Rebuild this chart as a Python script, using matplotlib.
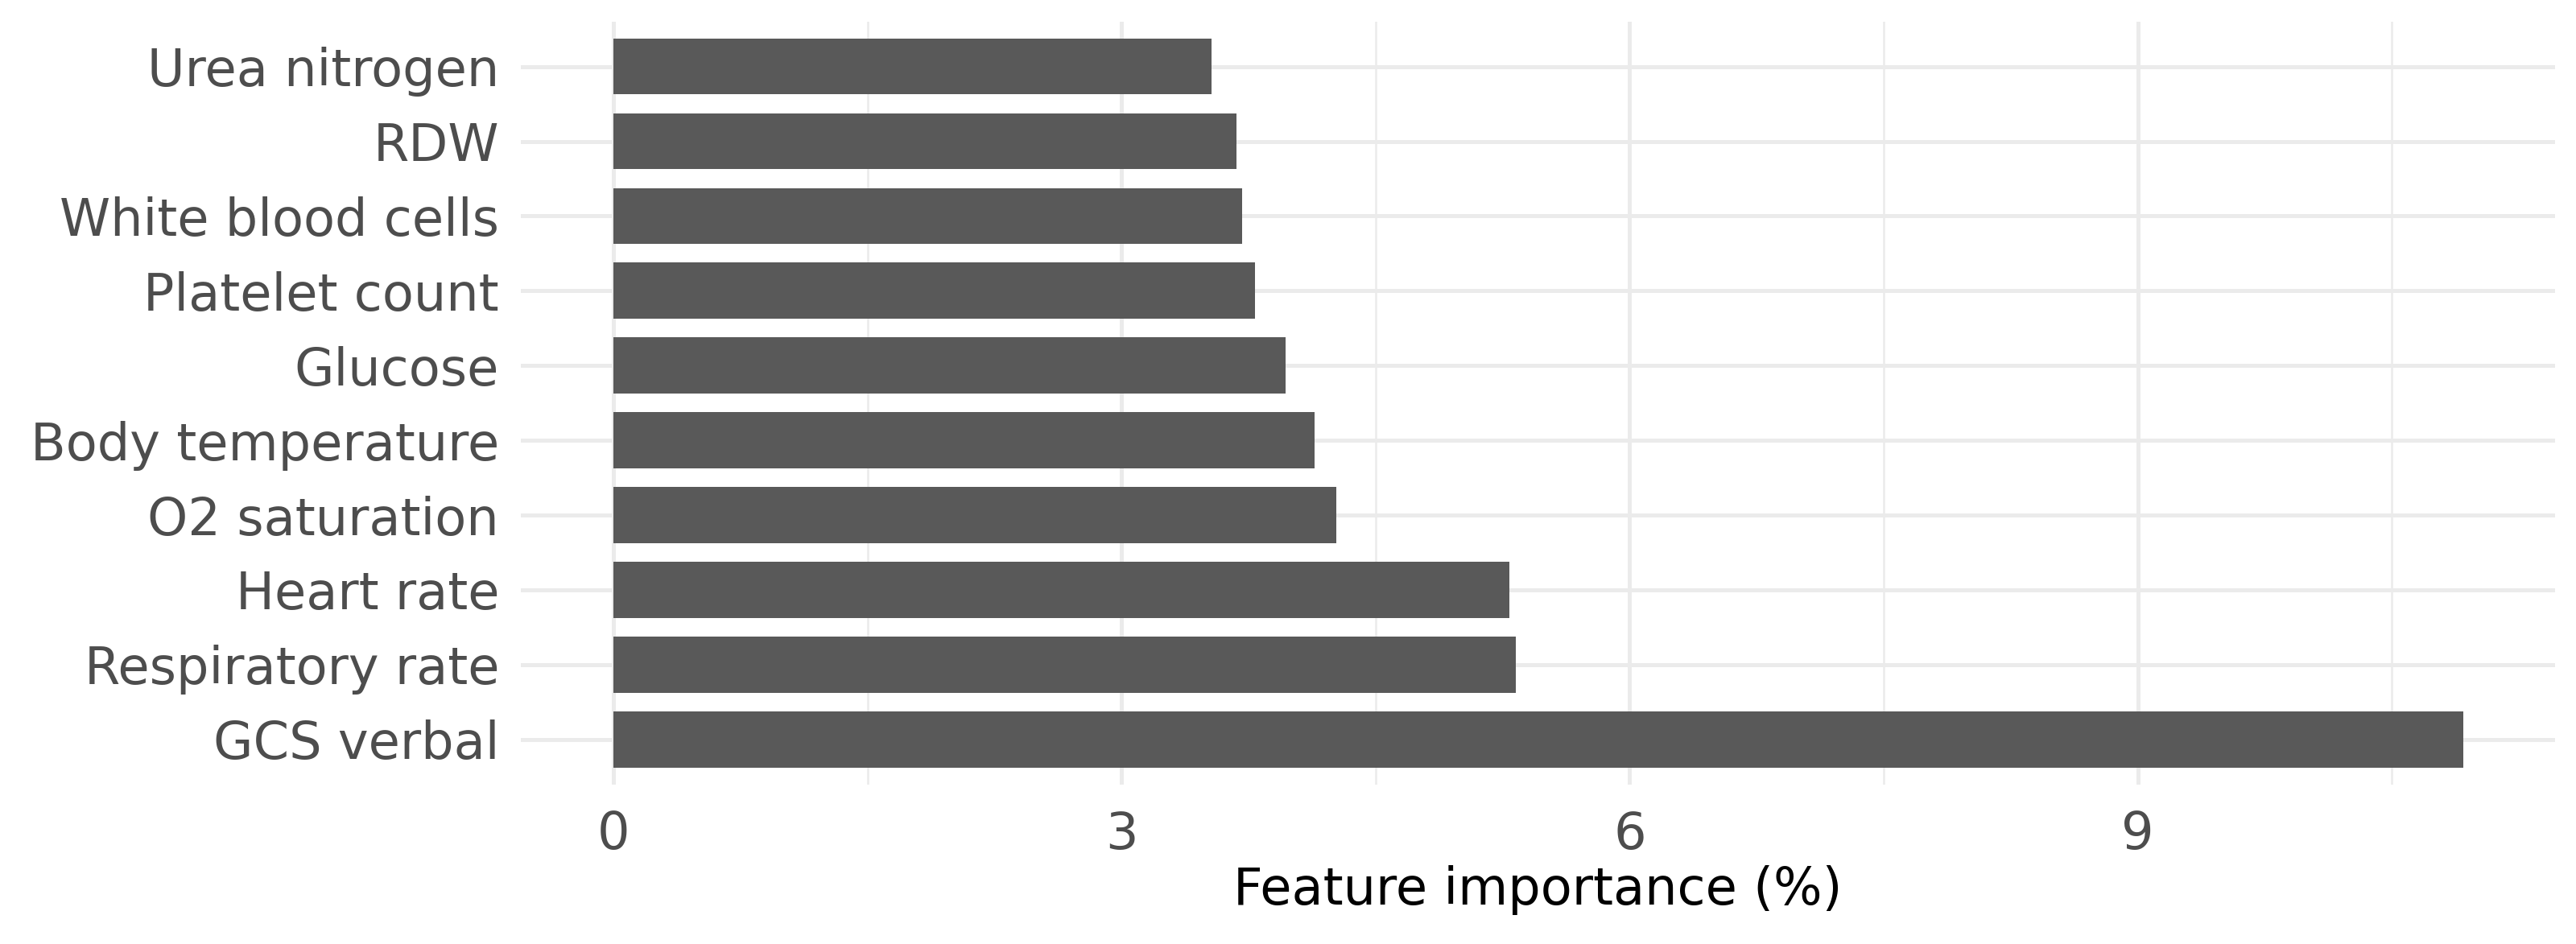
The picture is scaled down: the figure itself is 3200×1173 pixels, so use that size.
import matplotlib
matplotlib.use("Agg")
import matplotlib.pyplot as plt
from matplotlib.ticker import MultipleLocator

features = ["Urea nitrogen", "RDW", "White blood cells", "Platelet count", "Glucose",
            "Body temperature", "O2 saturation", "Heart rate", "Respiratory rate", "GCS verbal"]
importance = [3.53, 3.68, 3.71, 3.79, 3.97, 4.14, 4.27, 5.29, 5.33, 10.92]
x_ticks = [0, 3, 6, 9]
x_label = "Feature importance (%)"

plt.rcParams['font.family'] = ['DejaVu Sans']
fig = plt.figure(figsize=(16, 5.865), dpi=200)
ax = fig.add_axes([0.2022, 0.1692, 0.7898, 0.8079])

ypos = list(range(len(features)))
ax.barh(ypos, importance, height=0.75, color="#595959", zorder=3)

xmax = max(importance)
ax.set_xlim(-0.05 * xmax, xmax * 1.05)
ax.set_ylim(len(features) - 1 + 0.6, -0.6)

ax.set_yticks(ypos)
ax.set_yticklabels(features)
ax.set_xticks(x_ticks)
ax.set_xticklabels([str(t) for t in x_ticks])
ax.xaxis.set_minor_locator(MultipleLocator(1.5))

ax.grid(which="major", axis="both", color="#EBEBEB", linewidth=1.8, zorder=0)
ax.grid(which="minor", axis="x", color="#EBEBEB", linewidth=0.9, zorder=0)
ax.set_axisbelow(True)

for s in ax.spines.values():
    s.set_visible(False)
ax.tick_params(axis="both", which="both", length=0, labelsize=23, labelcolor="#4D4D4D")
ax.tick_params(axis="y", pad=9.7)
ax.tick_params(axis="x", pad=11.5)
ax.set_xlabel(x_label, fontsize=23, color="black", labelpad=2.5)

fig.savefig("out.png", dpi=200, facecolor="white")
